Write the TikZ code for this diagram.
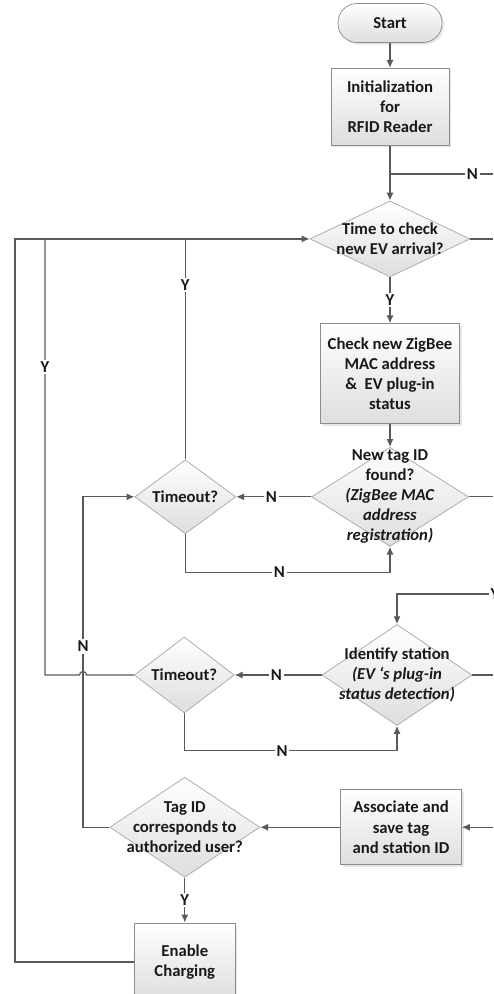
\documentclass[tikz,border=0pt]{standalone}
\usepackage{fontspec}
\setmainfont{Carlito}
\usetikzlibrary{shapes.geometric, positioning, arrows.meta, shadows, calc}

\tikzset{
  every node/.style={font=\fontsize{9.5}{11.4}\selectfont\bfseries, text=black!90},
  proc/.style={rectangle, draw=black!45, top color=white, bottom color=black!13,
    align=center, inner sep=0pt,
    drop shadow={opacity=0.2, shadow xshift=0.04cm, shadow yshift=-0.04cm}},
  term/.style={proc, rounded corners=0.38cm},
  decision/.style={diamond, draw=black!35, top color=white, bottom color=black!13, inner sep=0pt},
  dtext/.style={align=center, inner sep=0pt},
  line/.style={draw=black!65, line width=0.7pt},
  arr/.style={line, -{Latex[length=4.5pt,width=4pt]}},
  lbl/.style={fill=white, inner sep=1pt},
}

\begin{document}
\begin{tikzpicture}
\useasboundingbox (0,0) rectangle (9.86,-19.88);
\clip (0,0) rectangle (9.86,-19.88);

% main column
\node[term, minimum width=2.08cm, minimum height=0.78cm] (start) at (7.8,-0.46) {Start};
\node[proc, minimum width=2.36cm, minimum height=1.54cm] (init) [below=0.5cm of start] {Initialization\\for\\RFID Reader};
\node[decision, minimum width=3.2cm, minimum height=1.52cm,
  label={[dtext]center:{Time to check\\new EV arrival?}}] (d1) [below=1.1cm of init] {};
\node[proc, minimum width=2.78cm, minimum height=2.0cm] (check) [below=0.92cm of d1] {Check new ZigBee\\MAC address\\\&\ \ EV plug-in\\status};
\node[decision, minimum width=3.14cm, minimum height=1.98cm,
  label={[dtext]center:{New tag ID\\found?\\\textit{(ZigBee MAC}\\\textit{address}\\\textit{registration)}}}] (d2) [below=0.46cm of check] {};
\node[decision, minimum width=2.02cm, minimum height=1.48cm,
  label={[dtext]center:{Timeout?}}] (t1) [left=1.5cm of d2] {};

% second row
\node[decision, minimum width=3.0cm, minimum height=2.02cm,
  label={[dtext]center:{Identify station\\\textit{(EV ‘s plug-in}\\\textit{status detection)}}}] (d3) [below=1.55cm of d2, xshift=0.14cm] {};
\node[decision, minimum width=2.0cm, minimum height=1.52cm,
  label={[dtext]center:{Timeout?}}] (t2) [left=1.74cm of d3] {};
\node[proc, minimum width=2.42cm, minimum height=1.5cm] (assoc) [below=1.27cm of d3, xshift=0.08cm] {Associate and\\save tag\\and station ID};
\node[decision, minimum width=3.0cm, minimum height=2.0cm,
  label={[dtext]center:{Tag ID\\corresponds to\\authorized user?}}] (tag) [left=1.6cm of assoc] {};
\node[proc, minimum width=2.02cm, minimum height=1.56cm] (enable) [below=0.9cm of tag] {Enable\\Charging};

% edge and side coordinates
\coordinate (nin) at (9.86,-3.48);
\coordinate (ny) at (9.86,-11.88);
\coordinate (xa) at (0.3,0);
\coordinate (xb) at (0.9,0);
\coordinate (xc) at (1.66,0);

% connectors
\draw[arr] (start.south) -- (init.north);
\draw[arr] (init.south) -- (d1.north);
\draw[line] (init.south |- nin) -- node[lbl, pos=0.8]{N} (nin);
\draw[line] (d1.east) -- (d1.east -| nin);
\draw[arr] (d1.south) -- node[lbl]{Y} (check.north);
\draw[arr] (check.south) -- (d2.north);
\draw[arr] (d2.west) -- node[lbl, pos=0.53]{N} (t1.east);
\draw[arr] (t1.south) -- ++(0,-0.76) -| node[lbl, pos=0.23]{N} (d2.south);
\draw[line] (d2.east) -- (d2.east -| nin);
\draw[line] (t1.north) -- node[lbl, pos=0.79]{Y} (t1.north |- d1.west);

\draw[arr] (ny) -| (d3.north);
\node[lbl] (ylbl) at ([xshift=0.04cm]ny) {Y};
\draw[arr] (d3.west) -- node[lbl, pos=0.52]{N} (t2.east);
\draw[arr] (t2.south) -- ++(0,-0.75) -| node[lbl, pos=0.23]{N} (d3.south);
\draw[line] (d3.east) -- (d3.east -| nin);

\draw[arr] (tag.west) -- (xc |- tag.west) -- node[lbl, pos=0.547]{N} (xc |- t1.west) -- (t1.west);
\draw[line] (t2.west) -- ([xshift=0.07cm]xc |- t2.west) arc[start angle=0, end angle=180, radius=0.07cm]
  -- (xb |- t2.west) -- node[lbl, pos=0.706]{Y} (xb |- d1.west);
\draw[arr] (enable.west) -- (xa |- enable.west) |- (d1.west);

\draw[arr] (assoc.east -| nin) -- (assoc.east);
\draw[arr] (assoc.west) -- (tag.east);
\draw[arr] (tag.south) -- node[lbl]{Y} (enable.north);
\end{tikzpicture}
\end{document}
